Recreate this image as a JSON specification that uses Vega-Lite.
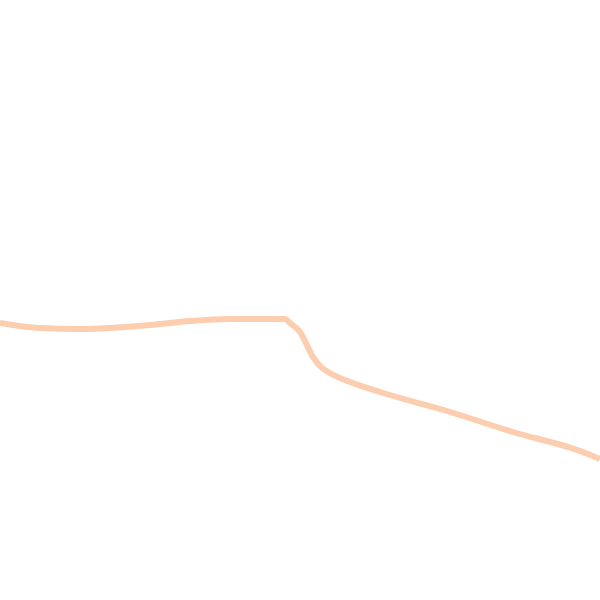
{
  "$schema": "https://vega.github.io/schema/vega-lite/v6.json",
  "width": 600,
  "height": 600,
  "autosize": "none",
  "padding": 0,
  "background": "white",
  "view": {"stroke": null},
  "data": {
    "values": [
      {"x": 0, "y": 277},
      {"x": 40, "y": 272},
      {"x": 80, "y": 271},
      {"x": 110, "y": 272},
      {"x": 150, "y": 275},
      {"x": 190, "y": 279},
      {"x": 230, "y": 281},
      {"x": 285, "y": 281},
      {"x": 290, "y": 277},
      {"x": 300, "y": 268},
      {"x": 313, "y": 243},
      {"x": 320, "y": 234},
      {"x": 330, "y": 227},
      {"x": 345, "y": 220},
      {"x": 380, "y": 208},
      {"x": 447, "y": 189},
      {"x": 513, "y": 168},
      {"x": 580, "y": 149},
      {"x": 600, "y": 141}
    ]
  },
  "mark": {"type": "line", "color": "#fdcdb0", "strokeWidth": 6, "interpolate": "monotone", "clip": false},
  "encoding": {
    "x": {"field": "x", "type": "quantitative", "scale": {"domain": [0, 600], "nice": false, "zero": false}, "axis": null},
    "y": {"field": "y", "type": "quantitative", "scale": {"domain": [0, 600], "nice": false, "zero": false}, "axis": null}
  }
}
